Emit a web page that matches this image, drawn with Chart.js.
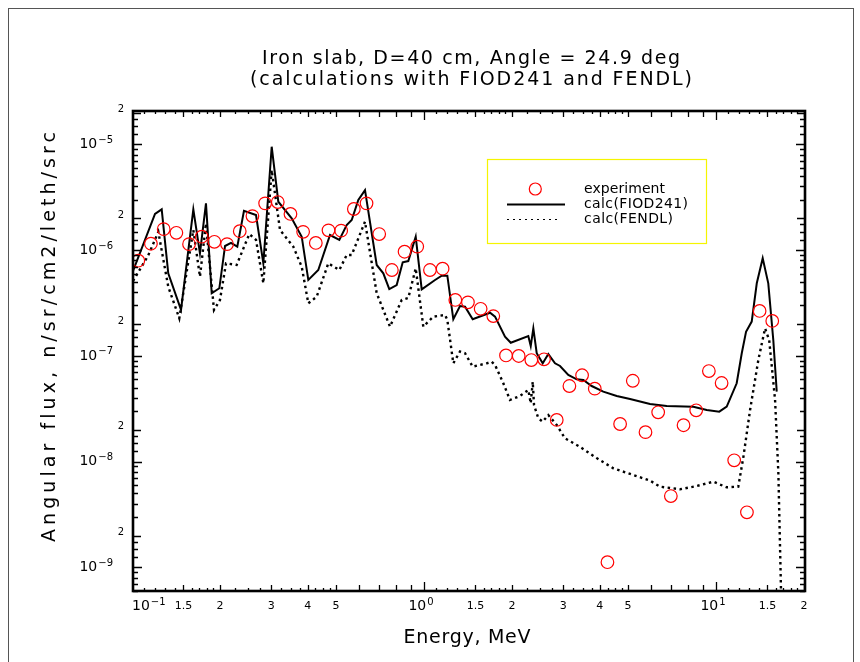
<!DOCTYPE html>
<html><head><meta charset="utf-8">
<script src="https://cdn.jsdelivr.net/npm/chart.js@4.4.1/dist/chart.umd.min.js"></script>
<style>html,body{margin:0;padding:0;background:#fff;}#wrap{width:860px;height:662px;position:relative;}canvas{display:block;}</style>
</head><body><div id="wrap"><canvas id="c" width="860" height="662"></canvas></div>
<script>
// ---- text ----
const titleLine1 = 'Iron slab, D=40 cm, Angle = 24.9 deg';
const titleLine2 = '(calculations with FIOD241 and FENDL)';
const xAxisTitle = 'Energy, MeV';
const yAxisTitle = 'Angular flux, n/sr/cm2/leth/src';
const seriesNames = ['experiment', 'calc(FIOD241)', 'calc(FENDL)'];

// ---- experiment (MeV, flux) ----
const expE = [0.1051,0.1161,0.1284,0.1419,0.1568,0.1733,0.1915,0.2116,0.2339,0.2585,0.2857,0.3157,0.3489,0.3855,0.4261,0.4709,0.5204,0.5751,0.6356,0.7024,0.7762,0.8579,0.9480,1.048,1.158,1.280,1.414,1.563,1.727,1.909,2.110,2.331,2.576,2.848,3.147,3.478,3.844,4.248,4.694,5.188,5.734,6.337,7.003,7.740,8.553,9.452,10.45,11.54,12.76,14.10,15.58];
const expFlux = [7.95e-7,1.15e-6,1.58e-6,1.46e-6,1.14e-6,1.34e-6,1.20e-6,1.14e-6,1.51e-6,2.10e-6,2.77e-6,2.85e-6,2.20e-6,1.49e-6,1.17e-6,1.54e-6,1.53e-6,2.45e-6,2.77e-6,1.42e-6,6.49e-7,9.66e-7,1.08e-6,6.49e-7,6.68e-7,3.38e-7,3.21e-7,2.79e-7,2.38e-7,1.01e-7,9.98e-8,9.14e-8,9.29e-8,2.48e-8,5.19e-8,6.56e-8,4.90e-8,1.12e-9,2.27e-8,5.82e-8,1.90e-8,2.93e-8,4.73e-9,2.21e-8,3.06e-8,7.19e-8,5.54e-8,1.03e-8,3.32e-9,2.66e-7,2.14e-7];

// ---- calc(FIOD241) ----
const fiodE = [0.1006,0.1199,0.1264,0.1331,0.1472,0.1622,0.1709,0.1792,0.1875,0.1991,0.2083,0.2183,0.2294,0.2418,0.2659,0.2817,0.3009,0.3170,0.3523,0.3813,0.4016,0.4345,0.4766,0.5129,0.5435,0.5655,0.5957,0.6280,0.6887,0.7255,0.7605,0.8062,0.8455,0.8835,0.9367,0.9820,1.091,1.150,1.202,1.260,1.328,1.382,1.468,1.683,1.751,1.894,1.982,2.276,2.320,2.368,2.432,2.550,2.665,2.810,2.923,3.120,3.334,3.513,3.752,4.111,4.571,5.077,5.943,6.780,8.362,9.294,10.26,10.88,11.77,12.25,12.67,13.25,13.79,14.45,15.10,15.71,16.14];
const fiodFlux = [6.25e-7,2.20e-6,2.43e-6,6.04e-7,2.72e-7,2.43e-6,9.34e-7,2.77e-6,3.91e-7,4.36e-7,1.095e-6,1.17e-6,1.08e-6,2.35e-6,2.15e-6,7.51e-7,9.51e-6,2.87e-6,2.00e-6,1.34e-6,5.22e-7,6.49e-7,1.39e-6,1.25e-6,1.73e-6,1.93e-6,2.98e-6,3.70e-6,7.24e-7,6.04e-7,4.29e-7,4.68e-7,7.68e-7,7.89e-7,1.34e-6,4.26e-7,5.22e-7,5.73e-7,5.73e-7,2.22e-7,2.96e-7,2.92e-7,2.22e-7,2.56e-7,2.35e-7,1.52e-7,1.33e-7,1.54e-7,1.24e-7,1.82e-7,1.06e-7,8.51e-8,1.04e-7,8.51e-8,8.03e-8,6.60e-8,6.01e-8,5.92e-8,5.19e-8,4.59e-8,4.18e-8,3.91e-8,3.51e-8,3.36e-8,3.31e-8,3.08e-8,2.97e-8,3.31e-8,5.51e-8,1.06e-7,1.69e-7,2.11e-7,4.86e-7,8.37e-7,4.86e-7,1.41e-7,4.59e-8];

// ---- calc(FENDL) ----
const fendlE = [0.1008,0.1134,0.1231,0.1331,0.1452,0.1622,0.1709,0.1792,0.1909,0.2001,0.2099,0.2282,0.2522,0.2659,0.2817,0.3009,0.3213,0.3567,0.3813,0.4016,0.4290,0.4702,0.5129,0.5435,0.5655,0.6280,0.6887,0.7647,0.8388,0.8835,0.9367,0.9945,1.076,1.180,1.202,1.260,1.328,1.382,1.468,1.640,1.705,1.751,1.869,1.970,2.132,2.276,2.320,2.357,2.381,2.463,2.550,2.665,2.848,3.040,3.422,3.903,4.449,5.209,5.943,6.431,7.529,8.587,9.790,10.88,11.92,12.41,13.08,13.96,14.72,15.21,15.93,16.35,16.79];
const fendlFlux = [5.11e-7,8.80e-7,1.49e-6,4.51e-7,2.27e-7,1.55e-6,5.61e-7,1.79e-6,2.72e-7,3.38e-7,7.51e-7,7.24e-7,1.42e-6,1.25e-6,4.86e-7,5.73e-6,1.55e-6,1.08e-6,6.97e-7,3.14e-7,3.63e-7,7.51e-7,6.49e-7,9.00e-7,9.00e-7,1.86e-6,3.91e-7,1.89e-7,3.38e-7,3.53e-7,6.74e-7,1.89e-7,2.35e-7,2.44e-7,2.19e-7,8.51e-8,1.10e-7,1.06e-7,7.91e-8,8.51e-8,8.81e-8,8.20e-8,5.51e-8,3.83e-8,4.18e-8,4.76e-8,3.56e-8,5.70e-8,3.43e-8,2.57e-8,2.39e-8,2.76e-8,2.22e-8,1.66e-8,1.38e-8,1.08e-8,8.65e-9,7.48e-9,6.61e-9,5.80e-9,5.48e-9,5.88e-9,6.46e-9,5.72e-9,5.80e-9,1.11e-8,3.08e-8,9.15e-8,1.82e-7,1.41e-7,3.83e-8,7.76e-9,3.0e-10];

// ---- axes / ticks ----
const xMin = 0.1008, xMax = 20.17;
const yMin = 5.98e-10, yMax = 2.07e-5;
const xLabelTicks = [0.1, 0.15, 0.2, 0.3, 0.4, 0.5, 1, 1.5, 2, 3, 4, 5, 10, 15, 20];
const xLabelBase  = ['10','1.5','2','3','4','5','10','1.5','2','3','4','5','10','1.5','2'];
const xLabelExp   = ['\u22121','','','','','','0','','','','','','1','',''];
const xDecades = [0.1, 1, 10];
const xMinorMult = [1.1,1.2,1.3,1.4,1.6,1.7,1.8,1.9,2.25,2.5,2.75,3.25,3.5,3.75,4.25,4.5,4.75];
const xMidMult = [1.5,2,3,4,5,6,7,8,9];
const yDecadeTicks = [1e-9, 1e-8, 1e-7, 1e-6, 1e-5];
const yDecadeExp = ['\u22129','\u22128','\u22127','\u22126','\u22125'];
const yTwoTicks = [2e-10, 2e-9, 2e-8, 2e-7, 2e-6, 2e-5];
const yDecadesAll = [1e-10, 1e-9, 1e-8, 1e-7, 1e-6, 1e-5];
const yMinorMult = [1.25,1.5,1.75,3,4,5,6,7,8,9];

const FONT = '"DejaVu Sans", "Liberation Sans", sans-serif';

function spacedText(ctx, text, x, y, size, targetW, align) {
  ctx.font = size + 'px ' + FONT;
  if ('letterSpacing' in ctx) ctx.letterSpacing = '0px';
  const w = ctx.measureText(text).width;
  let ls = 0;
  if (targetW && 'letterSpacing' in ctx) {
    ls = (targetW - w) / (text.length - 1);
    ctx.letterSpacing = ls.toFixed(2) + 'px';
  }
  const total = w + ls * (text.length - 1);
  let sx = x;
  if (align === 'center') sx = x - total / 2;
  else if (align === 'right') sx = x - total;
  ctx.textAlign = 'left';
  ctx.fillText(text, sx, y);
  if ('letterSpacing' in ctx) ctx.letterSpacing = '0px';
}

const decor = {
  id: 'decor',
  beforeDraw(chart) {
    const ctx = chart.ctx;
    ctx.save();
    ctx.fillStyle = '#fff';
    ctx.fillRect(0, 0, chart.width, chart.height);
    ctx.restore();
  },
  afterDatasetsDraw(chart) {
    const ctx = chart.ctx;
    const a = chart.chartArea;
    const xs = chart.scales.x, ys = chart.scales.y;
    ctx.save();
    // outer thin frame
    ctx.strokeStyle = '#555';
    ctx.lineWidth = 1;
    ctx.strokeRect(8.5, 8.5, 845, 700);

    // ticks
    ctx.strokeStyle = '#000';
    ctx.lineWidth = 1.3;
    const xTick = (v, len) => {
      if (v < xMin || v > xMax) return;
      const px = Math.round(xs.getPixelForValue(v)) + 0.5;
      ctx.beginPath();
      ctx.moveTo(px, a.bottom); ctx.lineTo(px, a.bottom - len);
      ctx.moveTo(px, a.top); ctx.lineTo(px, a.top + len);
      ctx.stroke();
    };
    const yTick = (v, len) => {
      if (v < yMin || v > yMax) return;
      const py = Math.round(ys.getPixelForValue(v)) + 0.5;
      ctx.beginPath();
      ctx.moveTo(a.left, py); ctx.lineTo(a.left + len, py);
      ctx.moveTo(a.right, py); ctx.lineTo(a.right - len, py);
      ctx.stroke();
    };
    xDecades.forEach(d => {
      xTick(d, 9);
      xMidMult.forEach(m => xTick(d * m, 6));
      xMinorMult.forEach(m => xTick(d * m, 3));
    });
    yDecadesAll.forEach(d => {
      yTick(d, 9);
      yTick(d * 2, 8);
      yMinorMult.forEach(m => yTick(d * m, 5));
    });

    // frame
    ctx.lineWidth = 2.6;
    ctx.strokeRect(a.left, a.top, a.right - a.left, a.bottom - a.top);

    // x tick labels
    ctx.fillStyle = '#000';
    ctx.textBaseline = 'middle';
    const xLabY = 606;
    xLabelTicks.forEach((v, i) => {
      const px = xs.getPixelForValue(v);
      if (xLabelExp[i]) {
        ctx.font = '14px ' + FONT;
        const w1 = ctx.measureText(xLabelBase[i]).width;
        ctx.font = '10px ' + FONT;
        const w2 = ctx.measureText(xLabelExp[i]).width;
        let sx = (i === 0) ? px : px - (w1 + w2 + 1) / 2 - 3;
        ctx.textAlign = 'left';
        ctx.font = '14px ' + FONT;
        ctx.fillText(xLabelBase[i], sx, xLabY);
        ctx.font = '10px ' + FONT;
        ctx.fillText(xLabelExp[i], sx + w1 + 1, xLabY - 4);
      } else {
        ctx.font = '11px ' + FONT;
        ctx.textAlign = 'center';
        ctx.fillText(xLabelBase[i], px, xLabY);
      }
    });

    // y tick labels
    yDecadeTicks.forEach((v, i) => {
      const py = ys.getPixelForValue(v);
      ctx.font = '10px ' + FONT;
      const w2 = ctx.measureText(yDecadeExp[i]).width;
      ctx.textAlign = 'right';
      ctx.fillText(yDecadeExp[i], 113, py - 4);
      ctx.font = '14px ' + FONT;
      ctx.fillText('10', 113 - w2 - 1, py);
    });
    yTwoTicks.forEach(v => {
      if (v < yMin || v > yMax) return;
      const py = ys.getPixelForValue(v);
      ctx.font = '10px ' + FONT;
      ctx.textAlign = 'center';
      ctx.fillText('2', 121, py - 3);
    });

    // titles
    ctx.fillStyle = '#000';
    ctx.textBaseline = 'middle';
    spacedText(ctx, titleLine1, 471, 59, 19, 418, 'center');
    spacedText(ctx, titleLine2, 471, 80, 19, 442, 'center');
    spacedText(ctx, xAxisTitle, 467, 638, 19, 127, 'center');
    ctx.save();
    ctx.translate(50, 337);
    ctx.rotate(-Math.PI / 2);
    spacedText(ctx, yAxisTitle, 0, 0, 19, 410, 'center');
    ctx.restore();

    // legend
    ctx.strokeStyle = '#f5f500';
    ctx.lineWidth = 1.2;
    ctx.strokeRect(487.5, 159.5, 219, 84);
    ctx.strokeStyle = '#ff0000';
    ctx.lineWidth = 1.2;
    ctx.beginPath(); ctx.arc(535.3, 189, 6, 0, Math.PI * 2); ctx.stroke();
    ctx.strokeStyle = '#000';
    ctx.lineWidth = 1.8;
    ctx.beginPath(); ctx.moveTo(507, 204.5); ctx.lineTo(565, 204.5); ctx.stroke();
    ctx.lineWidth = 1.2;
    ctx.setLineDash([2, 4]);
    ctx.beginPath(); ctx.moveTo(507, 219.5); ctx.lineTo(561, 219.5); ctx.stroke();
    ctx.setLineDash([]);
    ctx.fillStyle = '#000';
    spacedText(ctx, seriesNames[0], 584, 189, 14, 81, 'left');
    spacedText(ctx, seriesNames[1], 584, 204, 14, 104, 'left');
    spacedText(ctx, seriesNames[2], 584, 219, 14, 89, 'left');
    ctx.restore();
  }
};

const toXY = (xsArr, ysArr) => xsArr.map((e, i) => ({ x: e, y: ysArr[i] }));

new Chart(document.getElementById('c').getContext('2d'), {
  type: 'line',
  data: {
    datasets: [
      { label: seriesNames[0], data: toXY(expE, expFlux), showLine: false,
        pointStyle: 'circle', pointRadius: 6.3, pointHoverRadius: 6.3,
        pointBorderColor: '#ff0000', pointBackgroundColor: 'rgba(0,0,0,0)',
        pointBorderWidth: 1.2, borderColor: '#ff0000' },
      { label: seriesNames[1], data: toXY(fiodE, fiodFlux), borderColor: '#000',
        borderWidth: 2, pointRadius: 0, tension: 0, fill: false },
      { label: seriesNames[2], data: toXY(fendlE, fendlFlux), borderColor: '#000',
        borderWidth: 2.4, borderDash: [2.5, 3.5], pointRadius: 0, tension: 0, fill: false }
    ]
  },
  options: {
    responsive: false, animation: false, devicePixelRatio: 1,
    layout: { padding: { left: 133, top: 111, right: 55, bottom: 71 } },
    plugins: { legend: { display: false }, title: { display: false }, tooltip: { enabled: false } },
    scales: {
      x: { type: 'logarithmic', min: xMin, max: xMax, display: false },
      y: { type: 'logarithmic', min: yMin, max: yMax, display: false }
    }
  },
  plugins: [decor]
});
</script>
</body></html>
